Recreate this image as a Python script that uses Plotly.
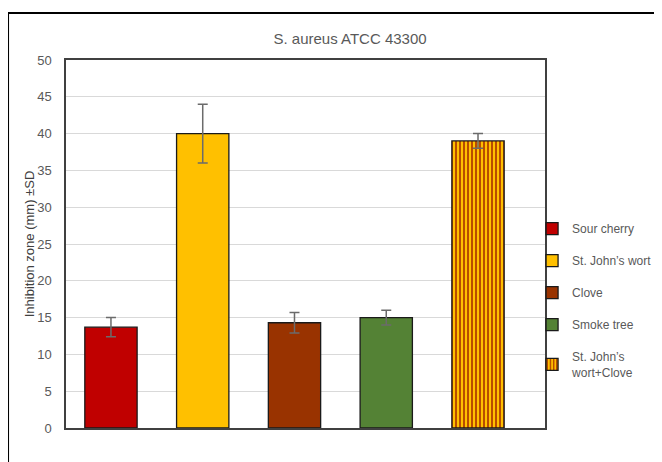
import plotly.graph_objects as go

categories = ["Sour cherry", "St. John’s wort", "Clove", "Smoke tree", "St. John’s wort+Clove"]
legend_labels = ["Sour cherry", "St. John’s wort", "Clove", "Smoke tree", "St. John’s<br>wort+Clove"]
values = [13.7, 40.0, 14.3, 15.0, 39.0]
errors = [1.3, 4.0, 1.4, 1.0, 1.0]
colors = ["#C00000", "#FFC000", "#993300", "#548235", "#FFC000"]
tick_vals = [0, 5, 10, 15, 20, 25, 30, 35, 40, 45, 50]

FONT = "Liberation Sans"
GRAY = "#595959"

fig = go.Figure()
for i, (cat, lab, v, e, c) in enumerate(zip(categories, legend_labels, values, errors, colors)):
    marker = dict(color=c, line=dict(color="#1a1a1a", width=1.3))
    if i == 4:
        marker["pattern"] = dict(shape="|", fgcolor="#B04000", bgcolor="#FFC000", size=4, solidity=0.45, fillmode="replace")
    fig.add_trace(go.Bar(
        x=[i], y=[v], name=lab, width=0.57, marker=marker, legendgroup=str(i),
        error_y=dict(type="data", array=[e], color="#6b6b6b", thickness=1.5, width=5),
    ))

fig.update_layout(
    width=654, height=454,
    margin=dict(l=58, r=117, t=52, b=34, autoexpand=False),
    paper_bgcolor="white", plot_bgcolor="white",
    barmode="overlay",
    font=dict(family=FONT, color=GRAY, size=12),
    title=dict(text="S. aureus ATCC 43300", x=0.523, xanchor="center", y=0.932, yanchor="middle",
               font=dict(size=15, color=GRAY, family=FONT)),
    showlegend=True,
    legend=dict(x=0.973, xanchor="left", y=0.581, yanchor="top", tracegroupgap=13,
                font=dict(size=12, color=GRAY, family=FONT), itemwidth=30,
                bgcolor="rgba(0,0,0,0)"),
    xaxis=dict(range=[-0.49, 4.73], showticklabels=False, ticks="", showgrid=False,
               showline=True, linecolor="#404040", linewidth=1.5, mirror=True, zeroline=False),
    yaxis=dict(range=[0, 50], tickvals=tick_vals, showgrid=True, gridcolor="#d9d9d9", gridwidth=1,
               showline=True, linecolor="#404040", linewidth=1.5, mirror=True, zeroline=False,
               tickfont=dict(size=13, color=GRAY, family=FONT), ticks="", ticklabelstandoff=10,
               title=dict(text="Inhibition zone (mm) ±SD", standoff=0,
                          font=dict(size=13, color="#404040", family=FONT))),
)

fig.add_shape(type="rect", xref="paper", yref="paper",
              x0=-0.121, x1=1.6, y0=-0.3, y1=1.1277,
              line=dict(color="black", width=2), fillcolor="rgba(0,0,0,0)", layer="below")

fig.write_html("out.html")
